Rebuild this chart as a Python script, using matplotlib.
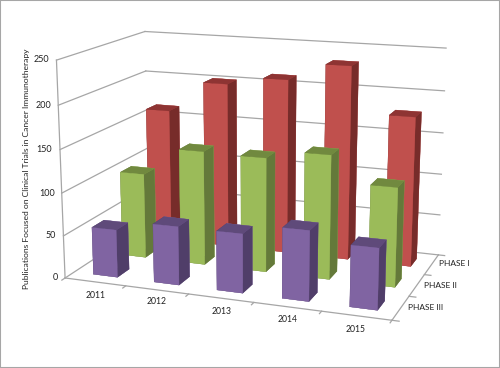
import matplotlib
matplotlib.use("Agg")
import matplotlib.pyplot as plt

years = ["2011", "2012", "2013", "2014", "2015"]
phases = ["PHASE III", "PHASE II", "PHASE I"]
phase_3 = [56, 68, 68, 80, 69]
phase_2 = [102, 136, 135, 145, 115]
phase_1 = [163, 201, 211, 232, 178]
z_ticks = [0, 50, 100, 150, 200, 250]
ylabel = "Publications Focused on Clinical Trials in Cancer Immunotherapy"

# front, top, side colours for every phase
colores = [("#8064A2", "#5F4A7A", "#503E69"),
           ("#9BBB59", "#71893F", "#64793A"),
           ("#C0504D", "#8E3433", "#772C2A")]

W, H = 500, 368
plt.rcParams['font.family'] = ['Lato', 'DejaVu Sans']
fig = plt.figure(figsize=(W / 100, H / 100), dpi=100)
ax = fig.add_subplot(projection='3d', computed_zorder=False)
ax.set_xlim(0, 5)
ax.set_ylim(0, 3)
ax.set_zlim(0, 250)
ax.set_xticks([])
ax.set_yticks([])
ax.set_zticks([])
ax.set_axis_off()
ax.patch.set_visible(False)

# camara ajustada a las esquinas de la imagen
ax.view_init(elev=14.268, azim=-69.947)
ax.set_proj_type('persp', focal_length=0.54)
ax.set_box_aspect((1, 0.596, 0.657))
s, tx, ty = 2336.6, 256.8, 162.3
x0, x1 = ax.viewLim.x0, ax.viewLim.x1
y0 = ax.viewLim.y0
P = s * (x1 - x0)
ax.set_position([(tx + s * x0) / W, (H - ty + s * y0) / H, P / W, P / H])

# rejilla
gris = "#A6A6A6"
def linea(a, b, lw=0.9):
    ax.plot([a[0], b[0]], [a[1], b[1]], [a[2], b[2]], color=gris, lw=lw, zorder=1)

for z in z_ticks:
    linea((0, 0, z), (0, 3, z))
    linea((0, 3, z), (5, 3, z))
linea((0, 0, 0), (0, 0, 250))
linea((0, 0, 0), (5, 0, 0))
linea((5, 0, 0), (5, 3, 0))
for i in range(6):
    linea((i, 0, 0), (i, -0.1, 0))
for i in range(4):
    linea((5, i, 0), (5.1, i, 0))

# barras
series = [phase_3, phase_2, phase_1]
for fila, valores in enumerate(series):
    frente, arriba, lado = colores[fila]
    caras = [arriba, arriba, frente, frente, lado, lado]
    for col, v in enumerate(valores):
        ax.bar3d(col + 0.32, fila + 0.3, 0, 0.4, 0.4, v, color=caras, edgecolor=caras,
                 linewidth=0.2, shade=False, zorder=100 - 10 * fila + col)

# etiquetas en pixeles de la figura
def texto(px, py, t, **kw):
    fig.text(px / W, 1 - py / H, t, va='center', color='#222222', **kw)

for y, (px, py) in zip(years, [(96, 295), (157, 302), (222, 311), (288, 320), (356, 329)]):
    texto(px, py, y, ha='center', fontsize=6.2)
for f, (px, py) in zip(phases, [(408, 307), (424, 285), (439, 264)]):
    texto(px, py, f, ha='left', fontsize=6)
for z, (px, py) in zip(z_ticks, [(58, 278), (56, 236), (55, 193), (52, 150), (51, 105), (49, 60)]):
    texto(px, py, str(z), ha='right', fontsize=6.5)
texto(27, 169, ylabel, rotation=90, ha='center', fontsize=6.1)

fig.add_artist(plt.Rectangle((0, 0), 1, 1, transform=fig.transFigure, fill=False, ec=gris, lw=1.5))
fig.savefig("out.png", dpi=100)
